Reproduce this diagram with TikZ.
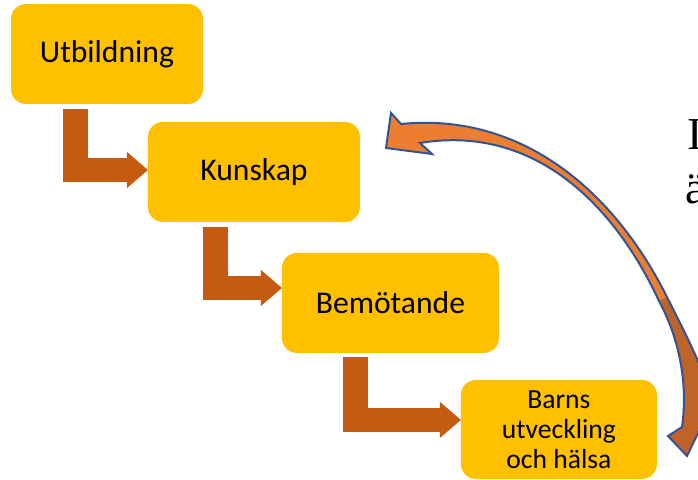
\documentclass[tikz,border=0pt]{standalone}
\usepackage{fontspec}
\setmainfont{Carlito}
\newfontfamily\timesfont{Liberation Serif}
\usetikzlibrary{arrows.meta,positioning}
\definecolor{boxyellow}{HTML}{FFC000}
\definecolor{arrowbrown}{HTML}{C55A11}
\definecolor{curveorange}{HTML}{ED7D31}
\definecolor{curvedark}{HTML}{BF6329}
\definecolor{curveblue}{HTML}{2F5597}
\newcommand{\returnpath}{(386,148) -- (391,113) -- (401,124)
  .. controls (520,112) and (613,189) .. (667,297)
  .. controls (685,333) and (705,370) .. (712,404)
  -- (687,456) -- (668,436) -- (682,427)
  .. controls (688,385) and (680,340) .. (659,301)
  .. controls (610,196) and (528,125) .. (420,143)
  -- (432,154) -- cycle}

\begin{document}
\begin{tikzpicture}[x=0.02cm,y=-0.02cm,
                    box node/.style={rectangle, rounded corners=0.3cm, fill=boxyellow,
                      minimum height=2cm, inner sep=0pt, outer sep=0pt, align=center,
                      font=\fontsize{18}{21}\selectfont},
                    flow arrow/.style={draw=arrowbrown, line width=0.49cm, line join=miter,
                      -{Triangle[length=0.42cm,width=0.72cm,line width=0pt]}}]

  \useasboundingbox (0,0) rectangle (698,480);
  \clip (0,0) rectangle (698,480);

  %Boxes%
  \node[box node, minimum width=3.84cm] (1) at (107,54) {Utbildning};
  \node[box node, minimum width=4.24cm] (2) [below right=0.36cm and -1.1cm of 1] {Kunskap};
  \node[box node, minimum width=4.34cm] (3) [below right=0.62cm and -1.56cm of 2] {Bemötande};
  \node[box node, minimum width=3.92cm, minimum height=1.98cm,
        font=\fontsize{15.7}{17}\selectfont] (4) [below right=0.54cm and -0.76cm of 3]
        {Barns\\utveckling\\och hälsa};

  %Step arrows%
  \coordinate (a1) at ([xshift=1.29cm,yshift=-0.1cm]1.south west);
  \coordinate (a2) at ([xshift=1.35cm,yshift=-0.1cm]2.south west);
  \coordinate (a3) at ([xshift=1.47cm,yshift=-0.08cm]3.south west);
  \draw[flow arrow] (a1) |- ([yshift=0.04cm]2.west);
  \draw[flow arrow] (a2) |- ([yshift=0.3cm]3.west);
  \draw[flow arrow] (a3) |- ([yshift=0.19cm]4.west);

  %Curved arrow back%
  \begin{scope}
    \clip \returnpath;
    \fill[curvedark] \returnpath;
    \fill[curveorange] (300,0) -- (760,0) -- (760,250.5) -- (300,480.5) -- cycle;
  \end{scope}
  \draw[curveblue, line width=0.04cm, line join=miter] \returnpath;

  %Cut text%
  \node[anchor=base west, inner sep=0pt, font=\timesfont\fontsize{26}{30}\selectfont]
    (t1) at (687,150) {I};
  \node[anchor=base west, inner sep=0pt, font=\timesfont\fontsize{26}{30}\selectfont]
    (t2) at (685,203) {ä};
\end{tikzpicture}
\end{document}
